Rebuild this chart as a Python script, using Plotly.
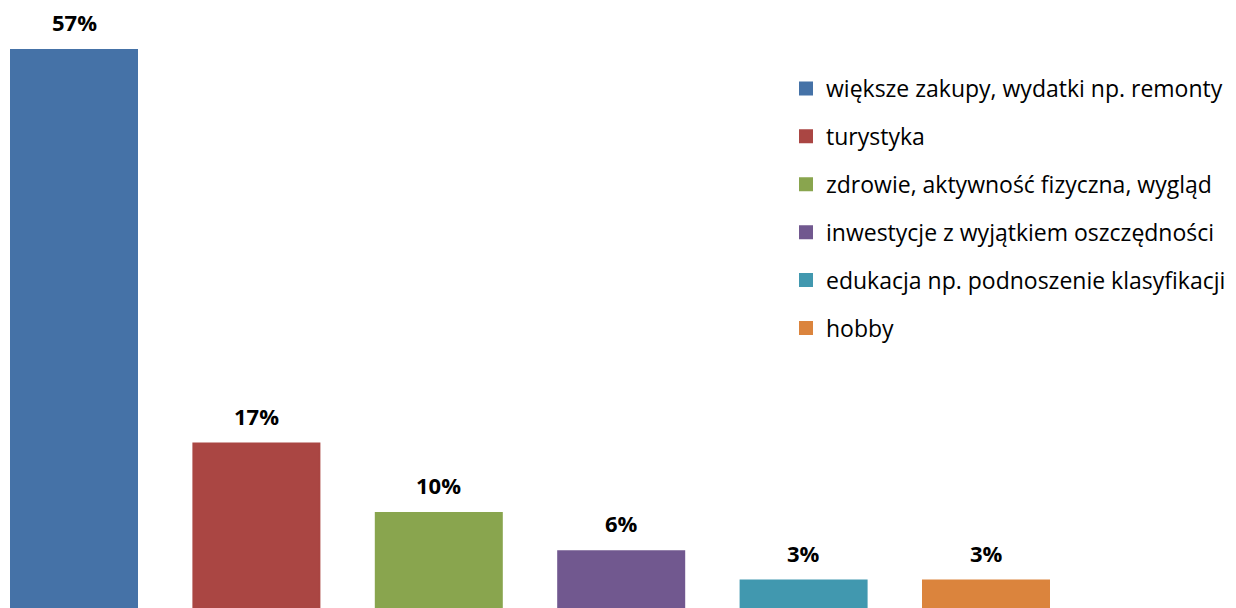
import plotly.graph_objects as go

categories = ["większe zakupy, wydatki np. remonty", "turystyka",
              "zdrowie, aktywność fizyczna, wygląd",
              "inwestycje z wyjątkiem oszczędności",
              "edukacja np. podnoszenie klasyfikacji", "hobby"]
values = [57.0, 16.8, 9.7, 5.8, 2.8, 2.8]
labels = ["57%", "17%", "10%", "6%", "3%", "3%"]
colors = ["#4572A7", "#AA4643", "#89A54E", "#71588F", "#4198AF", "#DB843D"]

FONT = "Open Sans"
fig = go.Figure()
for i, (c, v, col) in enumerate(zip(categories, values, colors)):
    fig.add_trace(go.Bar(x=[i], y=[v], name=c, width=126/182.4,
                         marker=dict(color=col, line=dict(color=col, width=2)),
                         legendgroup=str(i), hoverinfo="skip"))
    fig.add_annotation(x=i, y=v, text="<b>%s</b>" % labels[i], showarrow=False,
                       yanchor="middle", yshift=28,
                       font=dict(family=FONT, size=22, color="#000"))

fig.update_layout(
    width=1236, height=608,
    margin=dict(l=0, r=0, t=0, b=0),
    paper_bgcolor="white", plot_bgcolor="white",
    barmode="overlay",
    xaxis=dict(range=[-74/182.4, (1236-74)/182.4], visible=False),
    yaxis=dict(range=[0, 57*608/558], visible=False),
    showlegend=True,
    legend=dict(x=786/1236, y=1-67/608, xanchor="left", yanchor="top",
                font=dict(family=FONT, size=23, color="#000"),
                traceorder="grouped", tracegroupgap=15, itemwidth=30),
    font=dict(family=FONT),
)
fig.write_html("out.html", config={"displayModeBar": False},
               post_script="document.body.style.margin='0';")
